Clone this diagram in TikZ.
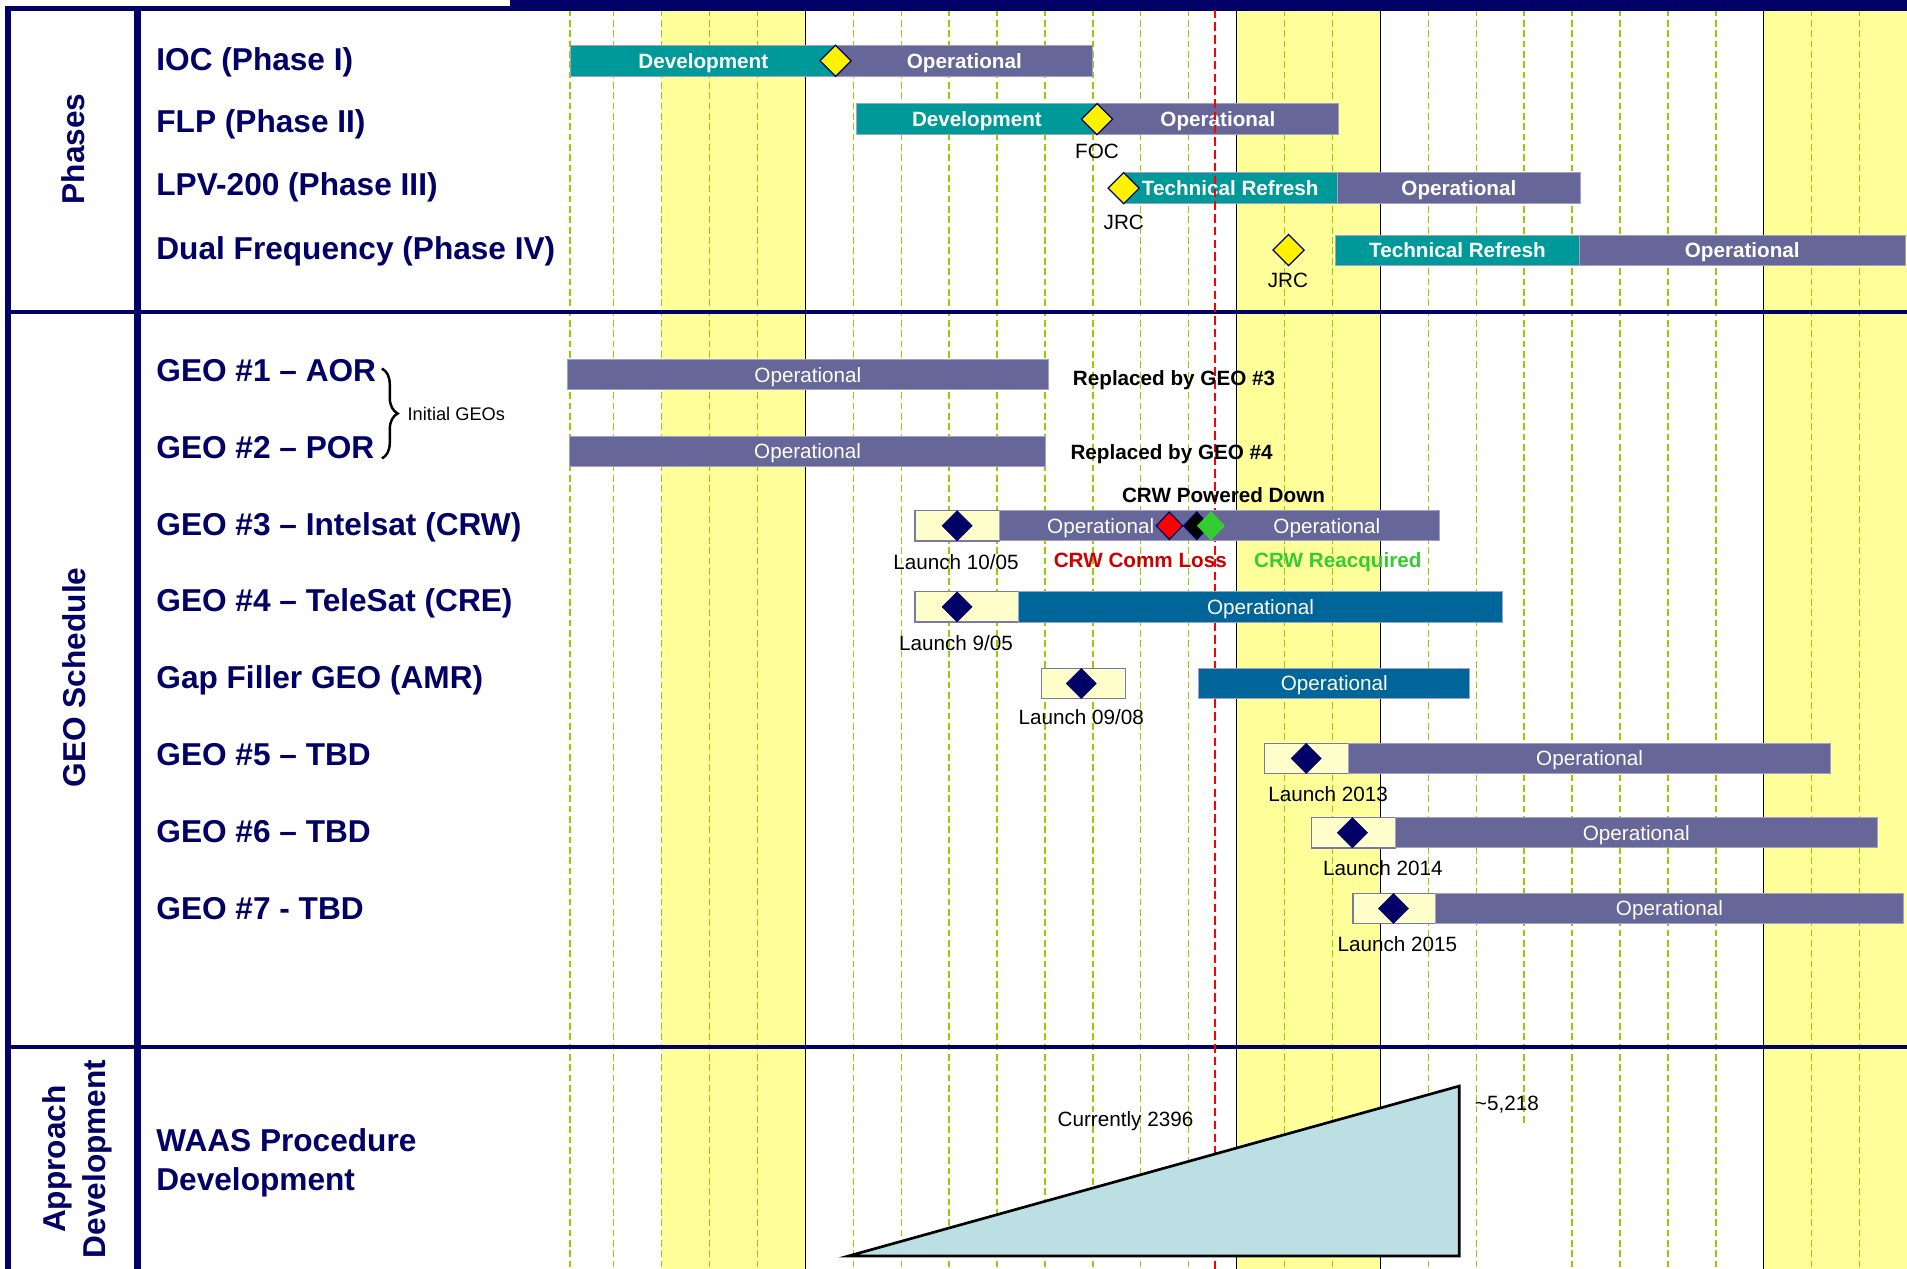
\documentclass[tikz,border=0pt]{standalone}
\usepackage{fontspec}
\setmainfont{Liberation Sans}
\usetikzlibrary{shapes.geometric,decorations.pathreplacing}
\definecolor{navy}{RGB}{0,0,102}
\definecolor{tealbar}{RGB}{0,153,153}
\definecolor{purpbar}{RGB}{102,102,153}
\definecolor{bandyel}{RGB}{255,255,153}
\definecolor{lightbox}{RGB}{255,255,204}
\definecolor{bluebar}{RGB}{0,102,153}
\definecolor{gridgreen}{RGB}{153,204,0}
\definecolor{barline}{RGB}{160,160,200}
\definecolor{boxline}{RGB}{120,120,170}
\definecolor{tricol}{RGB}{187,223,227}
\definecolor{reacq}{RGB}{51,204,51}
\definecolor{commred}{RGB}{204,0,0}
\definecolor{dmdred}{RGB}{255,0,0}
\begin{document}
\begin{tikzpicture}[x=1pt,y=-1pt,
  big/.style={font=\fontsize{26}{30}\selectfont\bfseries, text=navy, inner sep=0pt},
  rowlab/.style={big, anchor=base west},
  seclab/.style={big, anchor=base, rotate=90},
  bar/.style={draw=barline, line width=0.8pt, minimum height=25pt, inner sep=0pt, anchor=west, text=white, text height=12.2pt, text depth=0pt},
  devbar/.style={bar, fill=tealbar, font=\fontsize{17}{20}\selectfont\bfseries},
  opbar/.style={bar, fill=purpbar, font=\fontsize{17}{20}\selectfont\bfseries},
  gop/.style={bar, fill=purpbar, font=\fontsize{17}{20}\selectfont},
  gblue/.style={bar, fill=bluebar, font=\fontsize{17}{20}\selectfont},
  lbox/.style={draw=boxline, line width=1pt, fill=lightbox, minimum height=25pt, inner sep=0pt, anchor=west},
  mile/.style={diamond, draw=navy, line width=1pt, inner sep=0pt, minimum width=26pt, minimum height=26pt, fill=yellow},
  launchd/.style={diamond, draw=navy, fill=navy, inner sep=0pt, minimum width=25pt, minimum height=25pt},
  evd/.style={diamond, draw=navy, line width=1pt, inner sep=0pt, minimum width=22pt, minimum height=23pt},
  small/.style={font=\fontsize{17}{20}\selectfont, inner sep=0pt, text=black, text height=12.2pt, text depth=0pt},
  smallb/.style={font=\fontsize{17}{20}\selectfont\bfseries, inner sep=0pt, text=black, text height=12.2pt, text depth=0pt},
  bartext/.style={font=\fontsize{17}{20}\selectfont, inner sep=0pt, text=white, text height=12.2pt, text depth=0pt},
  gridline/.style={gridgreen, line width=1.1pt, dash pattern=on 5.5pt off 3pt},
  solidline/.style={black, line width=1.2pt},
  frameline/.style={navy, line width=4.8pt}
]
\useasboundingbox (0,0) rectangle (1568,1043);
\fill[white] (0,0) rectangle (1568,1043);
% yellow bands
\fill[bandyel] (544,8) rectangle (662.2,1043);
\fill[bandyel] (1016.8,8) rectangle (1135,1043);
\fill[bandyel] (1450.2,8) rectangle (1568,1043);
% grid
\draw[gridline] (468.8,8) -- (468.8,1043);
\foreach \j in {-1,0,1,2,4,5,6,7,8,9,10,11,13,14,16,17,19,20,21,22,24,25}
  \draw[gridline] ({544+39.4*\j},8) -- ({544+39.4*\j},1043);
\draw[gridline] (1253.2,8) -- (1253.2,926);
\foreach \j in {3,12,15,23}
  \draw[solidline] ({544+39.4*\j},8) -- ({544+39.4*\j},1043);
% frame
\fill[navy] (4.5,4.7) rectangle (1568,9);
\fill[navy] (419,0) rectangle (1568,9);
\draw[frameline] (6.8,7) -- (6.8,1043);
\draw[navy, line width=5.5pt] (113,7) -- (113,1043);
\draw[navy, line width=3.6pt] (4.5,256.5) -- (1568,256.5);
\draw[navy, line width=3.6pt] (4.5,861) -- (1568,861);
% section labels
\node[seclab] (secphases) at (69.7,122.5) {Phases};
\node[seclab] (secgeo) at (70,557) {GEO Schedule};
\node[seclab] (secappr1) at (53.5,953) {Approach};
\node[seclab] (secappr2) at (86.5,953) {Development};
% row labels
\node[rowlab] (lioc) at (128.4,57.6) {IOC (Phase I)};
\node[rowlab] (lflp) at (128.4,109) {FLP (Phase II)};
\node[rowlab] (llpv) at (128.4,161) {LPV-200 (Phase III)};
\node[rowlab] (ldual) at (128.4,213.2) {Dual Frequency (Phase IV)};
\node[rowlab] (lg1) at (128.4,313.8) {GEO \#1 – AOR};
\node[rowlab] (lg2) at (128.4,376.9) {GEO \#2 – POR};
\node[rowlab] (lg3) at (128.4,440) {GEO \#3 – Intelsat (CRW)};
\node[rowlab] (lg4) at (128.4,503) {GEO \#4 – TeleSat (CRE)};
\node[rowlab] (lgap) at (128.4,566.2) {Gap Filler GEO (AMR)};
\node[rowlab] (lg5) at (128.4,629.4) {GEO \#5 – TBD};
\node[rowlab] (lg6) at (128.4,692.5) {GEO \#6 – TBD};
\node[rowlab] (lg7) at (128.4,755.7) {GEO \#7 - TBD};
\node[rowlab] (lwaas1) at (128.4,947) {WAAS Procedure};
\node[rowlab] (lwaas2) at (128.4,978.5) {Development};
% brace
\draw[decorate, decoration={brace, amplitude=13pt}, line width=2pt] (314,303) -- (314,377);
\node[small, anchor=west, font=\fontsize{15}{18}\selectfont, text height=10.7pt] (initgeo) at (335,340) {Initial GEOs};
% phase bars
\node[devbar, minimum width=218.2pt] (iocdev) at (468.8,50) {Development};
\node[opbar, minimum width=211pt] (iocop) at (687,50) {Operational};
\node[mile] (iocm) at (687,50) {};
\node[devbar, minimum width=198.3pt] (flpdev) at (703.7,98) {Development};
\node[opbar, minimum width=198pt] (flpop) at (902,98) {Operational};
\node[mile] (focm) at (902,98) {};
\node[small] (foc) at (902,124) {FOC};
\node[devbar, minimum width=176.3pt] (lpvdev) at (923,154.7) {Technical Refresh};
\node[opbar, minimum width=199.7pt] (lpvop) at (1099.3,154.7) {Operational};
\node[mile] (jrc1m) at (923.9,154.7) {};
\node[small] (jrc1) at (924,183) {JRC};
\node[devbar, minimum width=200.6pt] (dualdev) at (1097.7,206) {Technical Refresh};
\node[opbar, minimum width=267.7pt] (dualop) at (1298.3,206) {Operational};
\node[mile] (jrc2m) at (1059.5,205.6) {};
\node[small] (jrc2) at (1059,230.5) {JRC};
% red line (today)
\draw[dmdred, line width=1.8pt, dash pattern=on 7pt off 3.5pt] (999,8) -- (999,1043);
% GEO bars
\node[gop, minimum width=395.7pt] (g1op) at (466,308) {Operational};
\node[smallb, anchor=base west] (rep3) at (882,316.6) {Replaced by GEO \#3};
\node[gop, minimum width=391.3pt] (g2op) at (468,371) {Operational};
\node[smallb, anchor=base west] (rep4) at (880,377.5) {Replaced by GEO \#4};
% GEO 3
\node[smallb] (crwpd) at (1006,407) {CRW Powered Down};
\node[lbox, minimum width=69.2pt] (g3box) at (751.8,432.3) {};
\node[gop, minimum width=362pt] (g3bar) at (821,432.3) {};
\node[bartext] (g3t1) at (905,432.3) {Operational};
\node[bartext] (g3t2) at (1091,432.3) {Operational};
\node[launchd] (g3l) at (787,432.3) {};
\node[evd, fill=dmdred] (g3red) at (961.5,432.3) {};
\node[evd, fill=black] (g3blk) at (984,432.3) {};
\node[evd, fill=reacq, draw=reacq] (g3grn) at (995.7,432.3) {};
\node[small] (g3launch) at (786,462) {Launch 10/05};
\node[smallb, text=commred] (commloss) at (937.6,460.5) {CRW Comm Loss};
\node[smallb, text=reacq] (reacqt) at (1100,460.5) {CRW Reacquired};
% GEO 4
\node[lbox, minimum width=85.2pt] (g4box) at (751.8,499) {};
\node[gblue, minimum width=398pt] (g4op) at (837,499) {Operational};
\node[launchd] (g4l) at (787,499) {};
\node[small] (g4launch) at (786,529) {Launch 9/05};
% Gap filler
\node[lbox, minimum width=69pt] (gapbox) at (856,562) {};
\node[launchd] (gapl) at (889,562) {};
\node[gblue, minimum width=222.7pt] (gapop) at (985.3,562) {Operational};
\node[small] (gaplaunch) at (889,590) {Launch 09/08};
% GEO 5
\node[lbox, minimum width=69.6pt] (g5box) at (1039,623.6) {};
\node[gop, minimum width=396.1pt] (g5op) at (1108.6,623.6) {Operational};
\node[launchd] (g5l) at (1074,623.6) {};
\node[small] (g5launch) at (1092,653) {Launch 2013};
% GEO 6
\node[lbox, minimum width=69.3pt] (g6box) at (1077.7,684.7) {};
\node[gop, minimum width=396pt] (g6op) at (1147,684.7) {Operational};
\node[launchd] (g6l) at (1112,684.7) {};
\node[small] (g6launch) at (1137,713.4) {Launch 2014};
% GEO 7
\node[lbox, minimum width=68pt] (g7box) at (1112,747) {};
\node[gop, minimum width=384.5pt] (g7op) at (1180,747) {Operational};
\node[launchd] (g7l) at (1145.8,747) {};
\node[small] (g7launch) at (1149,776.5) {Launch 2015};
% approach triangle
\draw[fill=tricol, line width=2.2pt, line join=miter] (697.7,1032.7) -- (1199.8,1032.7) -- (1199.8,893) -- cycle;
\node[small] (curr) at (925.4,920.4) {Currently 2396};
\node[small] (target) at (1239,907) {\textasciitilde 5,218};
\end{tikzpicture}
\end{document}
